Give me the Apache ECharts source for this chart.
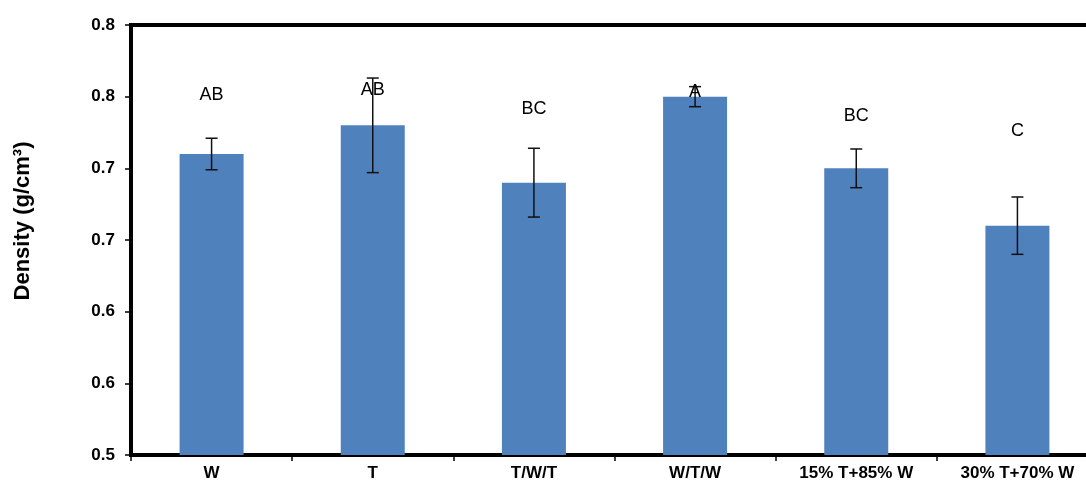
<!DOCTYPE html>
<html><head><meta charset="utf-8">
<script src="https://cdn.jsdelivr.net/npm/echarts@6/dist/echarts.min.js"></script>
<style>html,body{margin:0;padding:0;background:#fff}#c{width:1086px;height:483px}</style>
</head><body><div id="c"></div>
<script>
const categories = ['W', 'T', 'T/W/T', 'W/T/W', '15% T+85% W', '30% T+70% W'];
const density = [0.710, 0.730, 0.690, 0.750, 0.700, 0.660];
const errors = [0.011, 0.033, 0.024, 0.007, 0.0135, 0.020];
const groupLetters = ['AB', 'AB', 'BC', 'A', 'BC', 'C'];
const letterY = [0.7512, 0.7547, 0.7414, 0.7533, 0.7362, 0.7260];
const yTickLabels = ['0.5', '0.6', '0.6', '0.7', '0.7', '0.8', '0.8'];
const yMin = 0.5, yMax = 0.8, yStep = 0.05;

const FONT = '"Liberation Sans", Arial, sans-serif';
const chart = echarts.init(document.getElementById('c'), null, {renderer: 'canvas'});

const errData = categories.map((c, i) => [i, density[i] - errors[i], density[i] + errors[i]]);
const letterData = categories.map((c, i) => [i, letterY[i]]);

chart.setOption({
  animation: false,
  backgroundColor: '#fff',
  grid: {left: 131, width: 967, top: 25, height: 430, containLabel: false, outerBoundsMode: 'none',
         show: true, borderColor: '#000', borderWidth: 4, backgroundColor: 'transparent'},
  xAxis: {
    type: 'category',
    data: categories,
    axisLine: {lineStyle: {color: '#000', width: 4}},
    axisTick: {show: true, alignWithLabel: false, length: 6, lineStyle: {color: '#000', width: 1.5}},
    axisLabel: {interval: 0, margin: 10, color: '#000', fontFamily: FONT, fontWeight: 'bold', fontSize: 17}
  },
  yAxis: {
    type: 'value',
    min: yMin, max: yMax, interval: yStep,
    name: 'Density (g/cm³)',
    nameLocation: 'middle',
    nameGap: 97,
    nameTextStyle: {color: '#000', fontFamily: FONT, fontWeight: 'bold', fontSize: 22, padding: [0, 0, 0, 38]},
    axisLine: {show: true, lineStyle: {color: '#000', width: 4}},
    axisTick: {show: true, length: 6, lineStyle: {color: '#000', width: 1.5}},
    splitLine: {show: false},
    axisLabel: {
      margin: 16, color: '#000', fontFamily: FONT, fontWeight: 'bold', fontSize: 17,
      formatter: (v) => yTickLabels[Math.round((v - yMin) / yStep)]
    }
  },
  series: [
    {
      type: 'bar',
      data: density,
      barWidth: 64,
      itemStyle: {color: '#4f81bd'},
      z: 2
    },
    {
      type: 'custom',
      data: errData,
      z: 5,
      renderItem: function (params, api) {
        const p1 = api.coord([api.value(0), api.value(1)]);
        const p2 = api.coord([api.value(0), api.value(2)]);
        const x = p1[0], w = 6;
        const st = {stroke: '#111', lineWidth: 1.5};
        return {type: 'group', children: [
          {type: 'line', shape: {x1: x, y1: p1[1], x2: x, y2: p2[1]}, style: st},
          {type: 'line', shape: {x1: x - w, y1: p1[1], x2: x + w, y2: p1[1]}, style: st},
          {type: 'line', shape: {x1: x - w, y1: p2[1], x2: x + w, y2: p2[1]}, style: st}
        ]};
      }
    },
    {
      type: 'custom',
      data: letterData,
      z: 6,
      renderItem: function (params, api) {
        const p = api.coord([api.value(0), api.value(1)]);
        return {type: 'text', style: {
          x: p[0], y: p[1], text: groupLetters[params.dataIndex],
          textAlign: 'center', textVerticalAlign: 'middle',
          fill: '#000', font: 'normal 18px ' + FONT
        }};
      }
    }
  ]
});
</script></body></html>
